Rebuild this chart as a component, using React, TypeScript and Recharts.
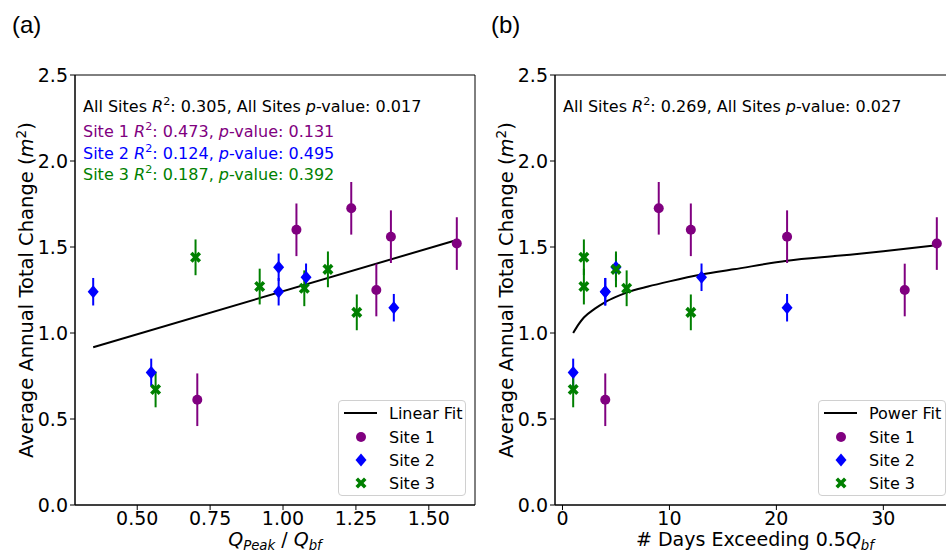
import React from "react";
import {
  ComposedChart,
  Scatter,
  Line,
  XAxis,
  YAxis,
  ErrorBar,
  ReferenceArea,
  Legend,
} from "recharts";

const PURPLE = "#800080";
const BLUE = "#0000ff";
const GREEN = "#008000";
const FONT = "DejaVu Sans, Verdana, sans-serif";

// y values: average annual total change (m^2) with error
const site1Change = [1.6, 1.725, 1.56, 1.52, 1.25, 0.612];
const site1Err = [0.153, 0.153, 0.153, 0.153, 0.153, 0.153];
const site2Change = [1.24, 0.771, 1.382, 1.24, 1.324, 1.147];
const site2Err = [0.08, 0.08, 0.08, 0.08, 0.08, 0.08];
const site3Change = [1.44, 0.672, 1.27, 1.26, 1.37, 1.12];
const site3Err = [0.104, 0.104, 0.104, 0.104, 0.104, 0.104];

// panel (a) x: Q_peak / Q_bf
const site1Ratio = [1.046, 1.234, 1.37, 1.596, 1.32, 0.706];
const site2Ratio = [0.349, 0.548, 0.985, 0.985, 1.079, 1.38];
const site3Ratio = [0.7, 0.563, 0.92, 1.073, 1.154, 1.253];

// panel (b) x: days exceeding 0.5 Q_bf
const site1Days = [12, 9, 21, 35, 32, 4];
const site2Days = [4, 1, 5, 4, 13, 21];
const site3Days = [2, 1, 2, 6, 5, 12];

// fit lines
const linearRatio = [0.349, 1.596];
const linearChange = [0.917, 1.541];
const powerDays = [1, 1.5, 2, 3, 4, 5, 6, 8, 10, 13, 16, 21, 26, 30, 35];
const powerChange = [1.0, 1.05, 1.09, 1.14, 1.18, 1.21, 1.235, 1.27, 1.3, 1.34, 1.37, 1.42, 1.45, 1.475, 1.51];

const siteNames = ["Site 1", "Site 2", "Site 3"];
const siteColors = [PURPLE, BLUE, GREEN];
const fitNames = ["Linear Fit", "Power Fit"];

const allR2 = ["0.305", "0.269"];
const allP = ["0.017", "0.027"];
const siteR2 = ["0.473", "0.124", "0.187"];
const siteP = ["0.131", "0.495", "0.392"];

const yTicks = [0, 0.5, 1, 1.5, 2, 2.5];
const ratioTicks = [0.5, 0.75, 1.0, 1.25, 1.5];
const dayTicks = [0, 10, 20, 30];
const ratioDomain = [0.2866, 1.6584];
const dayDomain = [-0.7, 36.7];

const zip = (xs: number[], ys: number[], es?: number[]) =>
  xs.map((x, i) => ({ x, y: ys[i], err: es ? es[i] : 0 }));

const CircleMark = (p: any) => <circle cx={p.cx} cy={p.cy} r={5} fill={PURPLE} />;
const DiamondMark = (p: any) => (
  <path
    d={`M${p.cx},${p.cy - 6.5}L${p.cx + 5.5},${p.cy}L${p.cx},${p.cy + 6.5}L${p.cx - 5.5},${p.cy}Z`}
    fill={BLUE}
  />
);
const XMark = (p: any) => {
  const L = 6, w = 1.8;
  const pts = [
    [-w, -L], [w, -L], [w, -w], [L, -w], [L, w], [w, w],
    [w, L], [-w, L], [-w, w], [-L, w], [-L, -w], [-w, -w],
  ].map((q) => q.join(",")).join(" ");
  return <polygon points={pts} fill={GREEN} transform={`translate(${p.cx},${p.cy}) rotate(45)`} />;
};
const marks = [CircleMark, DiamondMark, XMark];

const legendMarker = (i: number) => {
  if (i === 0) return <circle cx={20} cy={10} r={5} fill={PURPLE} />;
  if (i === 1) return <path d="M20,3.5L25.5,10L20,16.5L14.5,10Z" fill={BLUE} />;
  return (
    <polygon
      points="-1.8,-6 1.8,-6 1.8,-1.8 6,-1.8 6,1.8 1.8,1.8 1.8,6 -1.8,6 -1.8,1.8 -6,1.8 -6,-1.8 -1.8,-1.8"
      fill={GREEN}
      transform="translate(20,10) rotate(45)"
    />
  );
};

const LegendBox = ({ fit }: { fit: string }) => (
  <div
    style={{
      width: 128,
      height: 96,
      border: "1px solid #d0d0d0",
      borderRadius: 4,
      background: "rgba(255,255,255,0.8)",
      fontFamily: FONT,
      fontSize: 16,
      position: "relative",
      boxSizing: "border-box",
    }}
  >
    <div style={{ position: "absolute", left: 0, top: 2, height: 20, display: "flex", alignItems: "center" }}>
      <svg width={44} height={20}>
        <line x1={5} x2={38} y1={10} y2={10} stroke="#000" strokeWidth={2} />
      </svg>
      <span style={{ marginLeft: 6 }}>{fit}</span>
    </div>
    {siteNames.map((n, i) => (
      <div
        key={n}
        style={{ position: "absolute", left: 2, top: 26 + i * 23, height: 20, display: "flex", alignItems: "center" }}
      >
        <svg width={42} height={20}>{legendMarker(i)}</svg>
        <span style={{ marginLeft: 6 }}>{n}</span>
      </div>
    ))}
  </div>
);

const tickStyle = { fill: "#000", fontSize: 19, fontFamily: FONT };

function Panel({
  xs,
  fitX,
  fitY,
  fitName,
  domain,
  ticks,
  fmt,
}: {
  xs: number[][];
  fitX: number[];
  fitY: number[];
  fitName: string;
  domain: number[];
  ticks: number[];
  fmt: (v: number) => string;
}) {
  const changes = [site1Change, site2Change, site3Change];
  const errs = [site1Err, site2Err, site3Err];
  return (
    <ComposedChart width={480} height={553} margin={{ top: 75, right: 5, bottom: 0, left: 25 }}>
      <XAxis
        type="number"
        dataKey="x"
        domain={domain}
        ticks={ticks}
        tickFormatter={fmt}
        allowDataOverflow
        stroke="#000"
        tick={tickStyle}
        tickSize={5}
        height={48}
      />
      <YAxis
        type="number"
        dataKey="y"
        domain={[0, 2.5]}
        ticks={yTicks}
        tickFormatter={(v: number) => v.toFixed(1)}
        allowDataOverflow
        stroke="#000"
        tick={tickStyle}
        tickSize={5}
        width={50}
      />
      <ReferenceArea x1={domain[0]} x2={domain[1]} y1={0} y2={2.5} fill="none" stroke="#000" strokeWidth={1} />
      <Line
        data={zip(fitX, fitY)}
        dataKey="y"
        type="monotone"
        stroke="#000"
        strokeWidth={2}
        dot={false}
        isAnimationActive={false}
        name={fitName}
      />
      {siteNames.map((n, i) => (
        <Scatter
          key={n}
          name={n}
          data={zip(xs[i], changes[i], errs[i])}
          shape={marks[i]}
          isAnimationActive={false}
        >
          <ErrorBar dataKey="err" direction="y" width={0} stroke={siteColors[i]} strokeWidth={2} />
        </Scatter>
      ))}
      <Legend
        layout="vertical"
        align="center"
        verticalAlign="middle"
        wrapperStyle={{ left: 338, top: 400, width: 130 }}
        content={() => <LegendBox fit={fitName} />}
      />
    </ComposedChart>
  );
}

const Sup = ({ children }: { children: React.ReactNode }) => (
  <tspan dy={-7} fontSize="0.7em">{children}</tspan>
);

function StatLine({ x, y, color, prefix, r2, p, all }: any) {
  return (
    <text x={x} y={y} fill={color} fontSize={16} fontFamily={FONT}>
      {prefix} <tspan fontStyle="italic">R</tspan>
      <Sup>2</Sup>
      <tspan dy={7}>: {r2}, {all ? "All Sites " : ""}</tspan>
      <tspan fontStyle="italic">p</tspan>
      <tspan>-value: {p}</tspan>
    </text>
  );
}

export default function App() {
  return (
    <div
      style={{
        position: "absolute",
        left: 0,
        top: 0,
        width: 946,
        height: 553,
        overflow: "hidden",
        background: "#fff",
      }}
    >
      <div style={{ position: "absolute", left: 0, top: 0 }}>
        <Panel
          xs={[site1Ratio, site2Ratio, site3Ratio]}
          fitX={linearRatio}
          fitY={linearChange}
          fitName={fitNames[0]}
          domain={ratioDomain}
          ticks={ratioTicks}
          fmt={(v) => v.toFixed(2)}
        />
      </div>
      <div style={{ position: "absolute", left: 480, top: 0 }}>
        <Panel
          xs={[site1Days, site2Days, site3Days]}
          fitX={powerDays}
          fitY={powerChange}
          fitName={fitNames[1]}
          domain={dayDomain}
          ticks={dayTicks}
          fmt={(v) => String(v)}
        />
      </div>
      <svg
        width={946}
        height={553}
        style={{ position: "absolute", left: 0, top: 0, pointerEvents: "none" }}
      >
        <text x={12} y={33} fontSize={24} fontFamily="Liberation Sans, Arial, sans-serif">(a)</text>
        <text x={491} y={33} fontSize={24} fontFamily="Liberation Sans, Arial, sans-serif">(b)</text>

        <StatLine x={83} y={112} color="#000" prefix="All Sites" r2={allR2[0]} p={allP[0]} all />
        {siteNames.map((n, i) => (
          <StatLine key={n} x={83} y={137 + i * 21.5} color={siteColors[i]} prefix={n} r2={siteR2[i]} p={siteP[i]} />
        ))}
        <StatLine x={563} y={112} color="#000" prefix="All Sites" r2={allR2[1]} p={allP[1]} all />

        {[0, 480].map((dx) => (
          <text
            key={dx}
            transform={`translate(${dx + 33},290) rotate(-90)`}
            textAnchor="middle"
            fontSize={19.5}
            fontFamily={FONT}
          >
            Average Annual Total Change (<tspan fontStyle="italic">m</tspan>
            <Sup>2</Sup>
            <tspan dy={7}>)</tspan>
          </text>
        ))}

        <text x={275} y={546} textAnchor="middle" fontSize={19} fontFamily={FONT}>
          <tspan fontStyle="italic">Q</tspan>
          <tspan fontStyle="italic" fontSize="0.7em" dy={4}>Peak</tspan>
          <tspan dy={-4}> / </tspan>
          <tspan fontStyle="italic">Q</tspan>
          <tspan fontStyle="italic" fontSize="0.7em" dy={4}>bf</tspan>
        </text>
        <text x={755} y={546} textAnchor="middle" fontSize={19} fontFamily={FONT}>
          # Days Exceeding 0.5<tspan fontStyle="italic">Q</tspan>
          <tspan fontStyle="italic" fontSize="0.7em" dy={4}>bf</tspan>
        </text>
      </svg>
    </div>
  );
}
